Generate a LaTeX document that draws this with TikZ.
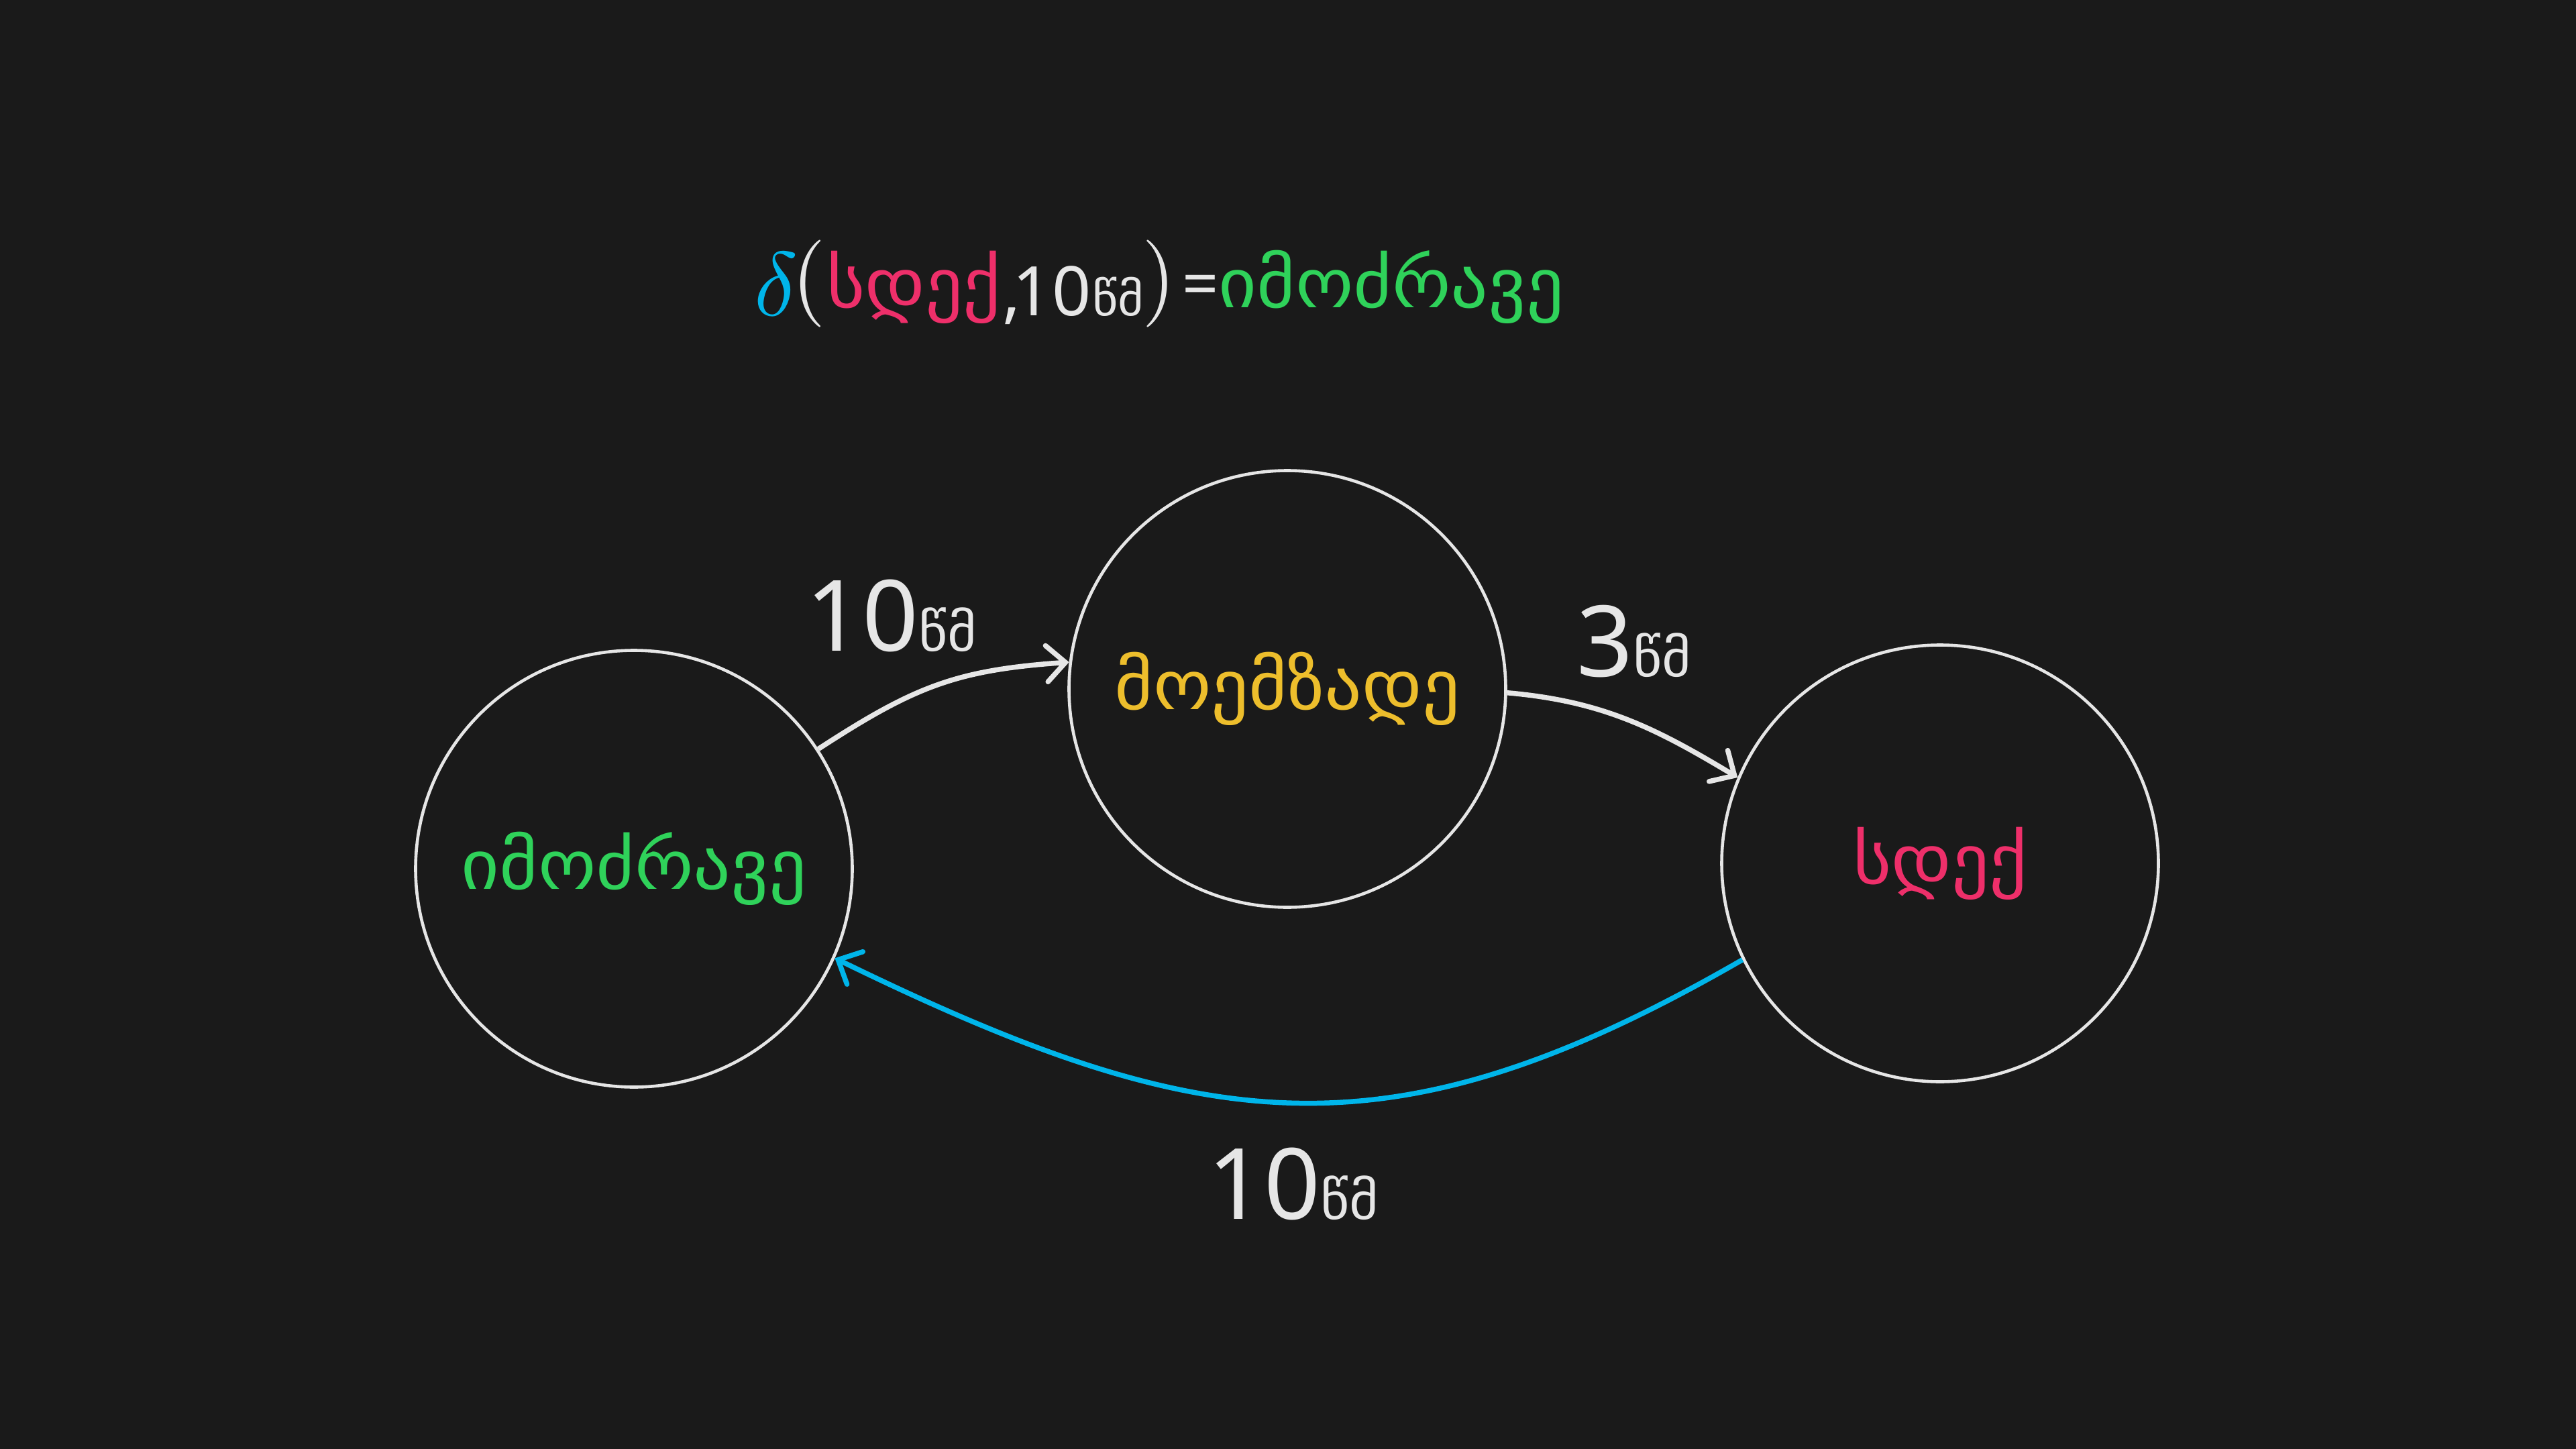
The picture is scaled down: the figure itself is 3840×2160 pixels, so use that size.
\documentclass[tikz,border=0pt]{standalone}
\usepackage{fontspec}
\setmainfont{Noto Sans}
\newfontfamily\geofont[FakeStretch=1.08]{DejaVu Sans}
\usetikzlibrary{arrows.meta}
\definecolor{bg}{HTML}{1A1A1A}
\definecolor{fg}{HTML}{E6E6E6}
\definecolor{gogreen}{HTML}{2FD25A}
\definecolor{stopred}{HTML}{EE2F6A}
\definecolor{readyyellow}{HTML}{EDBE2C}
\definecolor{flowblue}{HTML}{00B5EA}
\newcommand\setsz[1]{\fontsize{#1}{#1}\selectfont}
\begin{document}
\begin{tikzpicture}[x=0.1mm,y=-0.1mm,
  state/.style={circle, draw=fg, line width=0.46mm, minimum size=65.1mm,
    inner sep=0pt, font=\geofont\setsz{29pt}},
  edge/.style={draw=fg, line width=0.75mm,
    -{Straight Barb[length=2.8mm,width=5.4mm,line cap=round]}},
  digits/.style={text=fg, inner sep=0pt, anchor=base},
  formula/.style={inner sep=0pt, anchor=base},
]
\fill[bg] (0,0) rectangle (3840,2160);
\useasboundingbox (0,0) rectangle (3840,2160);

% states
\node[state, text=gogreen] (go) at (945,1295) {იმოძრავე};
\node[state, text=readyyellow] (ready) at (1919,1027) {მოემზადე};
\node[state, text=stopred] (stop) at (2892,1287) {სდექ};

% transitions
\draw[edge] (go.33) to[out=33,in=184,looseness=1.1] (ready.173);
\draw[edge] (ready.-1) to[out=-5,in=149] (stop.157);
\draw[edge, draw=flowblue] (stop.206) to[out=210,in=334,looseness=1.15] (go.336);

% transition labels
\node[digits] (t1) at (1329,970) {\setsz{41.8pt}10{\geofont\setsz{22pt}წმ}};
\node[digits] (t2) at (2436,1008) {\setsz{41.8pt}3{\geofont\setsz{22pt}წმ}};
\node[digits] (t3) at (1928,1817) {\setsz{41.8pt}10{\geofont\setsz{22pt}წმ}};

% transition function
\node[formula, text=flowblue] (fdelta) at (1157,470) {\scalebox{3.85}{$\delta$}};
\node[formula, text=fg] (fopen) at (1206,455) {\scalebox{3.7}{$($}};
\node[formula, text=stopred, font=\geofont\setsz{29pt}] (fstate) at (1362,458) {სდექ};
\node[formula, anchor=base west, text=fg, font=\setsz{29pt}] (ften) at (1494,470) {,\kern-0.12em 10};
\node[formula, text=fg, font=\geofont\setsz{19.5pt}] (funit) at (1667,470) {წმ};
\node[formula, text=fg] (fclose) at (1728,455) {\scalebox{3.7}{$)$}};
\node[inner sep=0pt, anchor=center, text=fg, font=\setsz{27pt}] (feq) at (1790,433) {=};
\node[formula, text=gogreen, font=\geofont\setsz{29pt}] (fresult) at (2074,458) {იმოძრავე};
\end{tikzpicture}
\end{document}
